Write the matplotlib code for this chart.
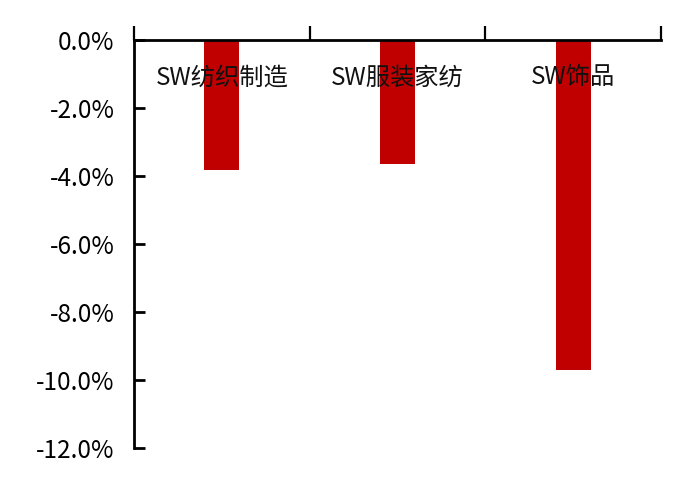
import matplotlib
matplotlib.use("Agg")
import matplotlib.pyplot as plt
from matplotlib.ticker import FuncFormatter

# --- Datos ---
categorias = ["SW纺织制造", "SW服装家纺", "SW饰品"]
valores = [-3.82, -3.65, -9.71]
yticks = [0, -2, -4, -6, -8, -10, -12]

plt.rcParams['font.family'] = ['Noto Sans CJK SC', 'DejaVu Sans']

fig = plt.figure(figsize=(7, 4.87), dpi=100)
ax = fig.add_axes([0.1914, 0.0801, 0.7529, 0.8378])

x = list(range(len(categorias)))
ax.bar(x, valores, width=0.2, color="#C00000", zorder=2)

for i, nombre in enumerate(categorias):
    ax.text(i, -1.1, nombre, ha="center", va="center", fontsize=17.5,
            color="#111111", zorder=3)

ax.set_xlim(-0.5, len(categorias) - 0.5)
ax.set_ylim(-12, 0)

# eje x arriba, solo marcas entre categorias
ax.spines["bottom"].set_visible(False)
ax.spines["right"].set_visible(False)
ax.spines["top"].set_linewidth(2)
ax.spines["left"].set_linewidth(2)
ax.xaxis.tick_top()
ax.set_xticks([i - 0.5 for i in range(len(categorias) + 1)])
ax.set_xticklabels([])
ax.tick_params(axis="x", direction="out", length=10, width=1.6)

ax.set_yticks(yticks)
ax.yaxis.set_major_formatter(FuncFormatter(lambda v, p: f"{v:.1f}%"))
ax.tick_params(axis="y", direction="in", length=8, width=2, pad=14,
               labelsize=17.5)
ax.set_facecolor("white")

fig.savefig("out.png", dpi=100)
